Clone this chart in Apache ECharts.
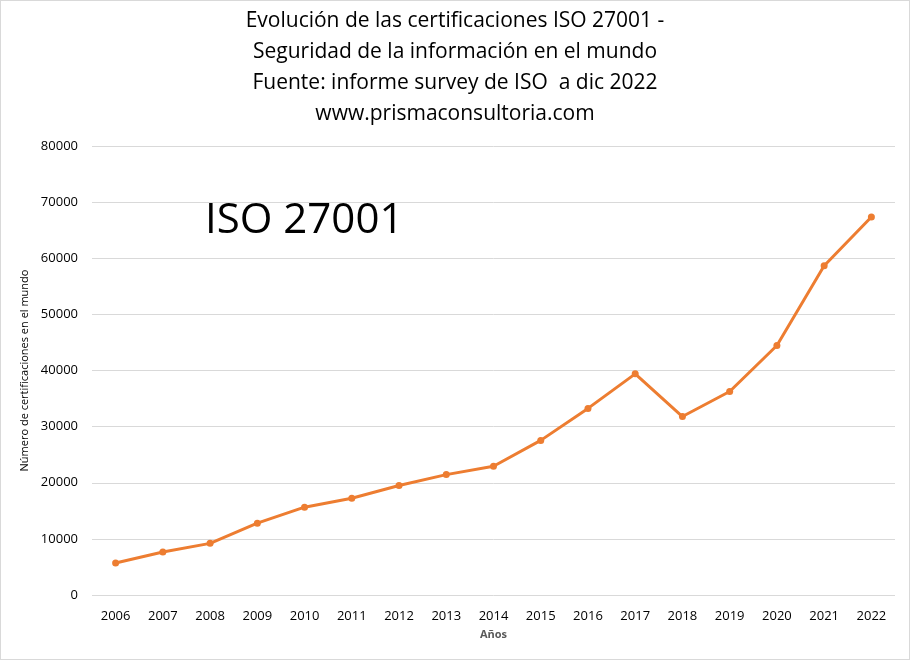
<!DOCTYPE html>
<html><head><meta charset="utf-8">
<script src="https://cdn.jsdelivr.net/npm/echarts@6/dist/echarts.min.js"></script>
<style>html,body{margin:0;padding:0;background:#fff}#c{width:908px;height:658px;border:1px solid #d9d9d9}</style>
</head><body><div id="c"></div>
<script>
const years = ['2006','2007','2008','2009','2010','2011','2012','2013','2014','2015','2016','2017','2018','2019','2020','2021','2022'];
const certificaciones = [5700,7650,9200,12800,15650,17250,19500,21450,22950,27550,33250,39400,31800,36250,44450,58650,67350];
const titleLines = ['Evolución de las certificaciones ISO 27001 -','Seguridad de la información en el mundo','Fuente: informe survey de ISO  a dic 2022','www.prismaconsultoria.com'];
const yTicks = {min:0,max:80000,interval:10000};
const chart = echarts.init(document.getElementById('c'));
const font = "'Open Sans', 'Noto Sans', sans-serif";
chart.setOption({
  animation:false,
  backgroundColor:'#fff',
  title:{text:titleLines.join('\n'),left:'center',top:0,textStyle:{fontFamily:font,fontSize:21,fontWeight:'normal',color:'#000',lineHeight:31}},
  grid:{left:91,right:14,top:145,bottom:64,containLabel:false},
  graphic:[{type:'text',left:204,top:199,style:{text:'ISO 27001',font:"42px 'Open Sans', sans-serif",fill:'#000'}}],
  xAxis:{type:'category',data:years,boundaryGap:true,name:'Años',nameLocation:'middle',nameGap:34,
    nameTextStyle:{fontFamily:font,fontSize:11,fontWeight:'bold',color:'#595959'},
    axisLine:{show:false},axisTick:{show:false},
    axisLabel:{fontFamily:font,fontSize:13,color:'#000',margin:15}},
  yAxis:{type:'value',min:yTicks.min,max:yTicks.max,interval:yTicks.interval,
    name:'Número de certificaciones en el mundo',nameLocation:'middle',nameGap:59,
    nameTextStyle:{fontFamily:font,fontSize:11,color:'#000'},
    axisLine:{show:false},axisTick:{show:false},
    axisLabel:{fontFamily:font,fontSize:13,color:'#000',margin:14,formatter:v=>String(v)},
    splitLine:{lineStyle:{color:'#d9d9d9',width:1}}},
  series:[{type:'line',data:certificaciones,symbol:'circle',symbolSize:7,
    lineStyle:{color:'#ED7D31',width:3},itemStyle:{color:'#ED7D31'}}]
});
</script></body></html>
